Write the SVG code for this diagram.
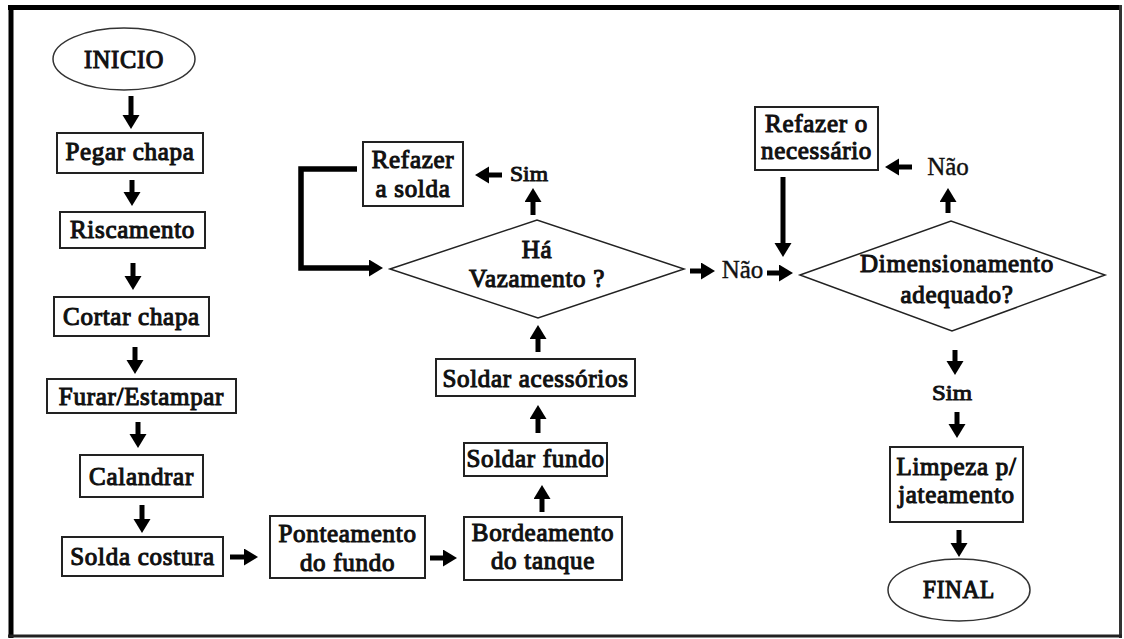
<svg xmlns="http://www.w3.org/2000/svg" width="1124" height="639" viewBox="0 0 1124 639">
  <defs>
    <marker id="head" markerUnits="userSpaceOnUse" markerWidth="16" markerHeight="18" refX="3" refY="8.5" orient="auto">
      <path d="M0,0 L14,8.5 L0,17 Z" fill="#000"/>
    </marker>
  </defs>
  <style>
    .box { fill: #fff; stroke: #222; stroke-width: 2; }
    .term { fill: #fff; stroke: #333; stroke-width: 1.5; }
    .dec { fill: #fff; stroke: #222; stroke-width: 1.5; }
    /* heavy serif lettering: regular face thickened with a thin outline */
    .t { font-family: 'Liberation Serif', 'Times New Roman', serif; font-weight: normal; font-size: 25px; letter-spacing: 0.7px; fill: #111; stroke: #111; stroke-width: 1.1px; text-anchor: middle; }
    .lbl { font-family: 'Liberation Serif', 'Times New Roman', serif; font-weight: normal; font-size: 25px; fill: #111; stroke: #111; stroke-width: 0.4px; text-anchor: middle; }
    .sm { font-family: 'Liberation Serif', 'Times New Roman', serif; font-weight: normal; font-size: 21px; fill: #111; stroke: #111; stroke-width: 0.9px; text-anchor: middle; }
    .c { fill: none; stroke: #000; stroke-width: 5; marker-end: url(#head); }
    .loop { fill: none; stroke: #000; stroke-width: 5.5; marker-end: url(#head); }
  </style>

  <rect x="0" y="0" width="1124" height="639" fill="#fff"/>

  <!-- page frame -->
  <g id="frame" stroke="#000" fill="none">
    <line x1="8" y1="7.5" x2="1122" y2="7.5" stroke-width="5"/>
    <line x1="11" y1="5" x2="11" y2="638" stroke-width="5"/>
    <line x1="1120.5" y1="5" x2="1120.5" y2="638" stroke-width="3" stroke="#333"/>
    <line x1="8" y1="636" x2="1122" y2="636" stroke-width="3" stroke="#222"/>
  </g>

  <!-- connectors -->
  <g id="connectors">
    <line class="c" x1="131" y1="96" x2="131" y2="118"/>
    <line class="c" x1="132" y1="180" x2="132" y2="195"/>
    <line class="c" x1="133" y1="263" x2="133" y2="279"/>
    <line class="c" x1="135" y1="347" x2="135" y2="363"/>
    <line class="c" x1="138" y1="422" x2="138" y2="437"/>
    <line class="c" x1="142" y1="505" x2="142" y2="522"/>
    <line class="c" x1="230" y1="557" x2="247" y2="557"/>
    <line class="c" x1="430" y1="558" x2="446" y2="558"/>
    <line class="c" x1="542" y1="512" x2="542" y2="496"/>
    <line class="c" x1="538" y1="433" x2="538" y2="416"/>
    <line class="c" x1="538" y1="352" x2="538" y2="336"/>
    <line class="c" x1="533" y1="215" x2="533" y2="199"/>
    <line class="c" x1="502" y1="175" x2="486" y2="175"/>
    <path class="loop" d="M357,169 H301 V268 H372"/>
    <line class="c" x1="690" y1="271" x2="704" y2="271"/>
    <line class="c" x1="767" y1="273" x2="782" y2="273"/>
    <line class="c" x1="783" y1="177" x2="783" y2="246"/>
    <line class="c" x1="948" y1="213" x2="948" y2="199"/>
    <line class="c" x1="912" y1="167" x2="896" y2="167"/>
    <line class="c" x1="955" y1="350" x2="955" y2="364"/>
    <line class="c" x1="957" y1="412" x2="957" y2="427"/>
    <line class="c" x1="959" y1="530" x2="959" y2="546"/>
  </g>

  <!-- left column -->
  <g id="inicio">
    <ellipse class="term" cx="124" cy="59" rx="71" ry="31"/>
    <text class="t" x="124" y="68" textLength="80" lengthAdjust="spacingAndGlyphs">INICIO</text>
  </g>
  <g id="pegar-chapa">
    <rect class="box" x="57" y="133" width="146" height="40"/>
    <text class="t" x="130" y="160">Pegar chapa</text>
  </g>
  <g id="riscamento">
    <rect class="box" x="60" y="212" width="145" height="36"/>
    <text class="t" x="132.5" y="238">Riscamento</text>
  </g>
  <g id="cortar-chapa">
    <rect class="box" x="54" y="297" width="155" height="39"/>
    <text class="t" x="131.5" y="325">Cortar chapa</text>
  </g>
  <g id="furar-estampar">
    <rect class="box" x="47" y="379" width="189" height="34"/>
    <text class="t" x="141.5" y="405">Furar/Estampar</text>
  </g>
  <g id="calandrar">
    <rect class="box" x="80" y="455" width="123" height="42"/>
    <text class="t" x="141.5" y="485">Calandrar</text>
  </g>
  <g id="solda-costura">
    <rect class="box" x="62" y="537" width="161" height="39"/>
    <text class="t" x="142.5" y="565">Solda costura</text>
  </g>

  <!-- bottom row and middle column -->
  <g id="ponteamento">
    <rect class="box" x="270" y="516" width="155" height="62"/>
    <text class="t" x="347.5" y="542">Ponteamento</text>
    <text class="t" x="347.5" y="571">do fundo</text>
  </g>
  <g id="bordeamento">
    <rect class="box" x="464" y="517" width="158" height="63"/>
    <text class="t" x="543" y="541">Bordeamento</text>
    <text class="t" x="543" y="569">do tanque</text>
  </g>
  <g id="soldar-fundo">
    <rect class="box" x="464" y="443" width="143" height="33"/>
    <text class="t" x="535.5" y="467">Soldar fundo</text>
  </g>
  <g id="soldar-acessorios">
    <rect class="box" x="436" y="359" width="199" height="37"/>
    <text class="t" x="535.5" y="387">Soldar acessórios</text>
  </g>
  <g id="ha-vazamento">
    <polygon class="dec" points="390,269 537,220 684,269 538,318"/>
    <text class="t" x="537" y="258">Há</text>
    <text class="t" x="537" y="287">Vazamento ?</text>
  </g>
  <g id="refazer-solda">
    <rect class="box" x="363" y="142" width="100" height="64"/>
    <text class="t" x="413" y="168">Refazer</text>
    <text class="t" x="413" y="197">a solda</text>
  </g>
  <g id="label-sim-1">
    <text class="sm" x="529" y="181" textLength="38" lengthAdjust="spacingAndGlyphs">Sim</text>
  </g>
  <g id="label-nao-1">
    <text class="lbl" x="742.5" y="278">Não</text>
  </g>

  <!-- right column -->
  <g id="refazer-necessario">
    <rect class="box" x="755" y="107" width="123" height="63"/>
    <text class="t" x="816.5" y="132">Refazer o</text>
    <text class="t" x="816.5" y="159">necessário</text>
  </g>
  <g id="label-nao-2">
    <text class="lbl" x="948" y="175">Não</text>
  </g>
  <g id="dimensionamento">
    <polygon class="dec" points="800,275 951,221 1105,275 952,331"/>
    <text class="t" x="957" y="272">Dimensionamento</text>
    <text class="t" x="957" y="303">adequado?</text>
  </g>
  <g id="label-sim-2">
    <text class="sm" x="952" y="400" textLength="40" lengthAdjust="spacingAndGlyphs">Sim</text>
  </g>
  <g id="limpeza">
    <rect class="box" x="890" y="447" width="133" height="75"/>
    <text class="t" x="956.5" y="475">Limpeza p/</text>
    <text class="t" x="956.5" y="503">jateamento</text>
  </g>
  <g id="final">
    <ellipse class="term" cx="959" cy="590" rx="71" ry="31"/>
    <text class="t" x="959" y="598" textLength="72" lengthAdjust="spacingAndGlyphs">FINAL</text>
  </g>
</svg>
